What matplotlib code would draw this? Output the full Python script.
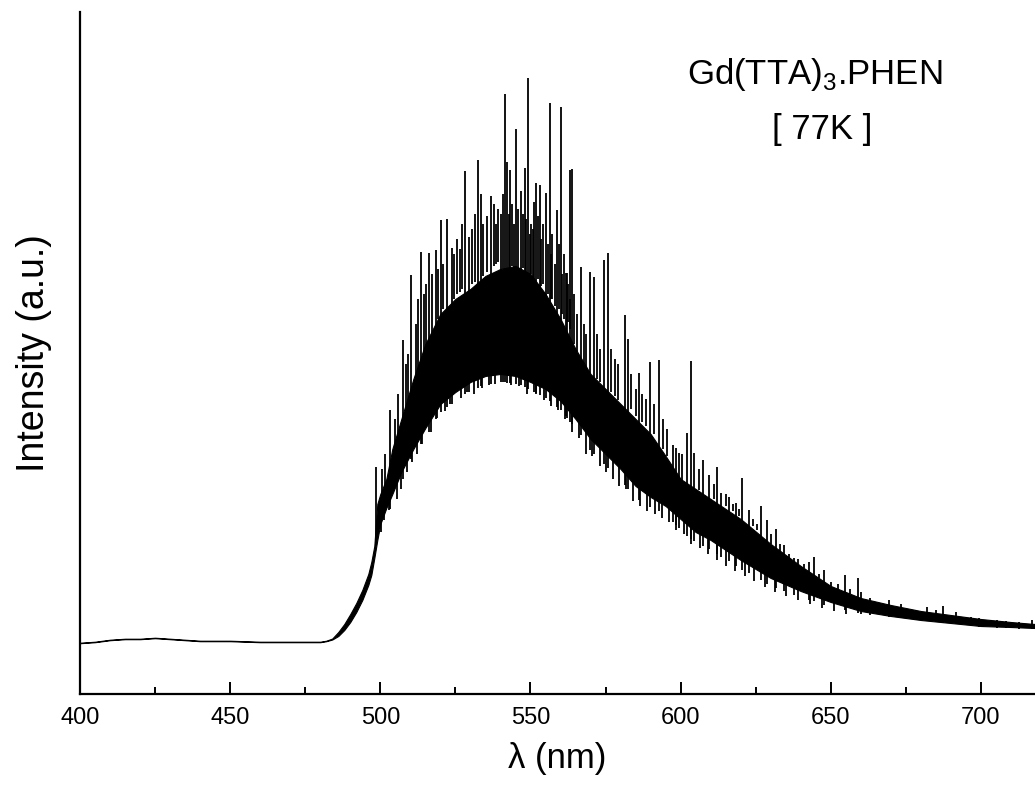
import matplotlib
matplotlib.use("Agg")
import matplotlib.pyplot as plt
import numpy as np

plt.rcParams['font.family'] = ['Liberation Sans', 'DejaVu Sans']
plt.rcParams['mathtext.fontset'] = 'custom'
plt.rcParams['mathtext.rm'] = 'Liberation Sans'

# solid part of the emission band (arbitrary units)
env_wl = [400, 405, 410, 415, 420, 425, 430, 435, 440, 450, 460, 470, 480, 482, 484,
          486, 488, 490, 492, 494, 496, 497, 498, 499, 500, 502, 504, 507, 511, 515,
          520, 525, 530, 535, 540, 545, 550, 555, 560, 565, 570, 575, 580, 585, 590,
          595, 600, 605, 610, 620, 630, 640, 650, 660, 670, 680, 690, 700, 710, 718]
env_lo = [50.8, 51.8, 53.8, 54.8, 54.8, 55.8, 54.8, 53.8, 52.8, 52.8, 51.8, 51.8, 51.8, 52.8, 54.5,
          58, 64, 72, 82, 94, 109, 119, 136, 154, 170, 186, 200, 222, 245, 266,
          290, 302, 312, 318, 320, 318, 312, 305, 293, 275, 255, 240, 225, 208, 197,
          188, 175, 162, 154, 134, 116, 103, 92, 83, 78, 74, 71, 68, 67, 66]
env_hi = [51.3, 52.3, 54.3, 55.3, 55.3, 56.3, 55.3, 54.3, 53.3, 53.3, 52.3, 52.3, 52.3, 53.3, 55.5,
          62, 70, 80, 91, 104, 120, 132, 148, 190, 200, 215, 245, 275, 315, 350,
          380, 395, 405, 418, 425, 428, 420, 400, 375, 345, 320, 305, 290, 275, 260,
          238, 215, 205, 195, 175, 150, 128, 108, 96, 89, 83, 79, 75, 72, 70]

# tall isolated peaks
spike_wl = [498.5, 503.2, 507.5, 510.1, 513.5, 516.1, 518.5, 520.1, 522.1, 523.8,
            528.1, 529.5, 532.4, 533.4, 536.8, 540.1, 541.4, 542.1, 543.1, 545.1,
            546.8, 548.1, 549.1, 551.1, 551.8, 553.1, 555.1, 556.4, 558.7, 560.1,
            561.7, 562.1, 563.1, 563.7, 566.7, 569.7, 571.0, 574.4, 575.7, 581.4,
            582.4, 586.0, 589.7, 592.7, 597.3, 598.3, 599.3, 602.0, 603.3, 604.3,
            607.3, 609.6, 612.0, 613.6, 616.0, 618.6, 620.6, 622.6, 626.6, 628.9,
            631.6, 634.3, 637.6, 642.9, 644.3, 647.9, 654.6, 658.9, 660.2, 662.9,
            669.5, 673.5, 678.5, 681.9, 684.9, 687.2, 691.8, 696.8, 699.2, 705.2,
            708.5, 712.8, 717.1]
spike_top = [227, 284, 354, 419, 442, 441, 444, 474, 475, 446,
             523, 457, 534, 500, 498, 480, 600, 532, 524, 565,
             503, 526, 616, 492, 511, 509, 501, 591, 484, 587,
             421, 421, 524, 525, 427, 422, 417, 434, 441, 379,
             355, 321, 332, 334, 249, 246, 241, 261, 333, 241,
             234, 219, 227, 201, 197, 191, 216, 184, 188, 174,
             165, 149, 136, 132, 137, 124, 119, 116, 102, 96,
             94, 90, 84, 87, 84, 88, 82, 77, 76, 74,
             73, 72, 74]
spike_base = [150, 185, 215, 235, 250, 262, 275, 282, 287, 290,
              300, 302, 306, 308, 310, 312, 312, 311, 311, 310,
              309, 307, 305, 302, 301, 299, 296, 293, 287, 284,
              278, 276, 272, 270, 259, 244, 240, 230, 226, 209,
              205, 194, 187, 183, 172, 169, 166, 158, 155, 153,
              148, 145, 140, 137, 133, 128, 124, 121, 114, 110,
              106, 103, 99, 94, 93, 89, 84, 81, 80, 79,
              77, 76, 74, 73, 72, 71, 70, 68, 67, 66,
              66, 65, 65]

# medium peaks making the ragged top of the band
mid_wl = [500.5, 501.5, 504.8, 505.8, 508.6, 509.3, 511.8, 512.6, 514.4, 515.3,
          517.2, 519.3, 521.0, 524.5, 525.6, 526.5, 527.2, 530.6, 531.4, 534.3,
          535.6, 537.7, 538.6, 539.3, 540.8, 544.0, 547.5, 550.2, 552.4, 554.2,
          557.3, 559.4, 561.0, 564.5, 565.5, 567.7, 568.6, 572.3, 573.3, 576.8,
          578.0, 579.2, 583.5, 585.0, 587.3, 588.4, 591.0, 594.0, 595.5, 600.5,
          606.0, 611.0, 615.0, 617.3, 619.6, 624.0, 625.5, 630.0, 633.0, 636.0,
          639.0, 641.0, 646.0, 650.0, 652.5, 656.5,
          542.8, 544.6, 546.0, 548.6, 549.8, 551.0, 553.6, 555.8, 556.9, 558.2,
          560.5, 562.6, 563.2]
mid_top = [225, 240, 275, 300, 330, 340, 370, 395, 400, 410,
           420, 425, 430, 440, 455, 445, 470, 465, 480, 470,
           478, 490, 470, 485, 500, 490, 480, 470, 478, 470,
           460, 450, 440, 400, 380, 370, 360, 360, 345, 345,
           335, 330, 320, 305, 300, 295, 290, 275, 265, 240,
           225, 210, 200, 190, 185, 175, 170, 160, 150, 140,
           135, 130, 120, 112, 110, 105,
           480, 470, 485, 475, 460, 465, 455, 450, 440, 430,
           420, 410, 395]
mid_base = [195, 205, 230, 250, 280, 290, 310, 320, 335, 345,
            360, 375, 385, 395, 400, 402, 405, 410, 412, 418,
            422, 428, 430, 432, 425, 428, 426, 420, 415, 410,
            395, 385, 375, 350, 342, 330, 325, 315, 312, 302,
            298, 294, 285, 278, 272, 268, 260, 245, 238, 212,
            204, 195, 188, 183, 178, 168, 164, 150, 142, 134,
            130, 126, 116, 108, 104, 100,
            420, 420, 420, 418, 415, 412, 408, 400, 395, 388,
            380, 372, 365]

# downward excursions below the band
dip_wl = [500.2, 501.2, 503.0, 505.5, 506.8, 509.0, 510.5, 512.3, 514.0, 516.8,
          519.0, 521.5, 523.2, 526.8, 528.8, 531.2, 533.8, 536.2, 538.3, 541.0,
          543.6, 546.2, 548.9, 552.0, 554.6, 557.0, 559.0, 561.5, 563.8, 566.2,
          568.4, 570.6, 573.0, 575.2, 577.4, 579.6, 581.8, 584.0, 586.5, 588.8,
          591.5, 593.8, 596.2, 598.5, 601.0, 603.5, 606.5, 609.0, 612.0, 615.0,
          618.0, 621.5, 624.5, 628.0, 631.5, 635.0, 639.0, 643.0, 647.0, 651.0,
          655.0]
dip_bottom = [162, 174, 184, 195, 205, 222, 232, 240, 250, 262,
              276, 283, 290, 296, 302, 300, 306, 309, 310, 312,
              309, 308, 300, 300, 294, 288, 284, 275, 262, 256,
              240, 238, 228, 222, 215, 208, 205, 193, 188, 183,
              180, 176, 172, 164, 160, 150, 146, 140, 134, 128,
              123, 118, 113, 107, 102, 98, 94, 90, 86, 83,
              80]
dip_top = [180, 195, 205, 215, 228, 245, 252, 260, 270, 282,
           295, 305, 310, 318, 322, 325, 328, 330, 332, 332,
           330, 328, 325, 322, 318, 312, 305, 298, 285, 275,
           265, 258, 248, 240, 235, 228, 222, 215, 208, 205,
           200, 195, 192, 185, 178, 170, 165, 160, 155, 148,
           142, 137, 130, 125, 118, 112, 108, 103, 98, 95,
           90]

fig = plt.figure(figsize=(10.35, 7.96), dpi=100)
ax = fig.add_axes([0.0773, 0.1281, 0.9227, 0.857])

ax.fill_between(env_wl, env_lo, env_hi, facecolor='black', edgecolor='black', lw=0.8)
ax.vlines(spike_wl, spike_base, spike_top, color='black', lw=1.3)
ax.vlines(mid_wl, mid_base, mid_top, color='black', lw=1.3)
ax.vlines(dip_wl, dip_bottom, dip_top, color='black', lw=1.3)

ax.set_xlim(400, 718)
ax.set_ylim(0, 682)
ax.set_xticks(np.arange(400, 701, 50))
ax.set_xticks(np.arange(425, 718, 50), minor=True)
ax.set_yticks([])
ax.tick_params(axis='x', which='major', direction='in', length=9, width=1.4,
               labelsize=17, pad=9)
ax.tick_params(axis='x', which='minor', direction='in', length=5, width=1.4)
for s in ['top', 'right']:
    ax.spines[s].set_visible(False)
for s in ['left', 'bottom']:
    ax.spines[s].set_linewidth(1.6)

ax.set_xlabel('λ (nm)', fontsize=25, labelpad=10)
ax.set_ylabel('Intensity (a.u.)', fontsize=27, labelpad=20)

ax.text(644.6, 619, r'Gd(TTA)$_\mathregular{3}$.PHEN', fontsize=25, ha='center', va='center')
ax.text(647, 564, '[ 77K ]', fontsize=25, ha='center', va='center')

fig.savefig('out.png', dpi=100)
